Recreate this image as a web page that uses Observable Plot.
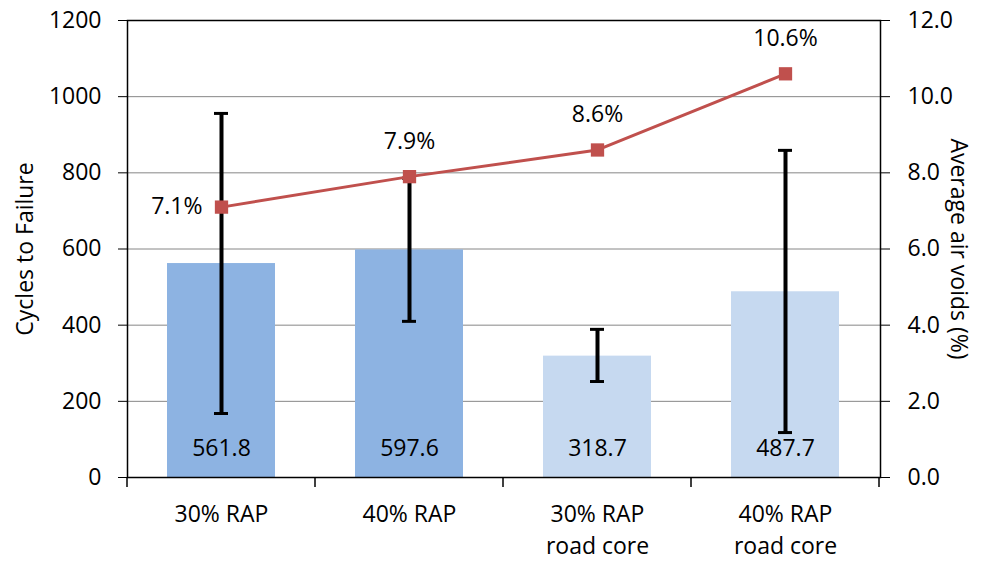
<!DOCTYPE html>
<html>
<head>
<meta charset="utf-8">
<script src="https://cdn.jsdelivr.net/npm/d3@7"></script>
<script src="https://cdn.jsdelivr.net/npm/@observablehq/plot@0.6"></script>
<style>
  body { margin: 0; background: #fff; }
</style>
</head>
<body>
<div id="chart"></div>
<script>
const mixes = ["30% RAP", "40% RAP", "30% RAP\nroad core", "40% RAP\nroad core"];
const cycles = [561.8, 597.6, 318.7, 487.7];
const cyclesLow = [168, 410, 252, 118];
const cyclesHigh = [956, 786, 389, 859];
const airVoids = [7.1, 7.9, 8.6, 10.6];
const barColors = ["#8DB3E2", "#8DB3E2", "#C6D9F0", "#C6D9F0"];
const leftTicks = [0, 200, 400, 600, 800, 1000, 1200];
const rightTicks = [0, 2, 4, 6, 8, 10, 12];

// right axis (air voids, 0-12) shares the left axis (0-1200)
const voidsToY = v => v * 100;

const rows = mixes.map((mix, i) => ({
  mix,
  cycles: cycles[i],
  low: cyclesLow[i],
  high: cyclesHigh[i],
  voids: airVoids[i],
  color: barColors[i]
}));

const chart = Plot.plot({
  width: 994,
  height: 561,
  marginLeft: 127,
  marginRight: 114,
  marginTop: 20,
  marginBottom: 84,
  style: {
    fontFamily: "'Open Sans', Lato, sans-serif",
    fontSize: "23px",
    color: "#000",
    background: "#fff",
    overflow: "visible"
  },
  x: { domain: mixes, paddingInner: 0.425, paddingOuter: 0.2125, label: null },
  y: { domain: [0, 1200], label: null },
  marks: [
    Plot.gridY(leftTicks, { stroke: "#868686", strokeOpacity: 1 }),
    Plot.barY(rows, { x: "mix", y: "cycles", fill: "color" }),
    Plot.ruleX(rows, { x: "mix", y1: "low", y2: "high", stroke: "#000", strokeWidth: 4 }),
    Plot.tickY(rows, { x: "mix", y: "low", stroke: "#000", strokeWidth: 3, insetLeft: 47, insetRight: 47 }),
    Plot.tickY(rows, { x: "mix", y: "high", stroke: "#000", strokeWidth: 3, insetLeft: 47, insetRight: 47 }),
    Plot.line(rows, { x: "mix", y: d => voidsToY(d.voids), stroke: "#C0504D", strokeWidth: 3 }),
    Plot.dot(rows, { x: "mix", y: d => voidsToY(d.voids), symbol: "square", fill: "#C0504D", r: 7.5 }),
    Plot.text(rows, { x: "mix", y: 0, text: d => d.cycles.toFixed(1), dy: -29 }),
    Plot.text(rows.slice(0, 1), {
      x: "mix", y: d => voidsToY(d.voids), text: d => d.voids.toFixed(1) + "%",
      textAnchor: "end", dx: -19
    }),
    Plot.text(rows.slice(1), {
      x: "mix", y: d => voidsToY(d.voids), text: d => d.voids.toFixed(1) + "%", dy: -35
    }),
    Plot.frame({ stroke: "#000", strokeWidth: 1.5 }),
    Plot.axisY(leftTicks, { anchor: "left", tickSize: 9, tickPadding: 17, label: null, tickFormat: d => String(d) }),
    Plot.axisY(rightTicks.map(voidsToY), {
      anchor: "right", tickSize: 9, tickPadding: 18, label: null,
      tickFormat: d => (d / 100).toFixed(1)
    }),
    Plot.axisX({ tickSize: 0, tickPadding: 22, lineHeight: 1.38, label: null }),
    Plot.text(["Cycles to Failure"], { frameAnchor: "left", textAnchor: "middle", rotate: -90, dx: -102 }),
    Plot.text(["Average air voids (%)"], { frameAnchor: "right", textAnchor: "middle", rotate: 90, dx: 78 })
  ]
});

// x-axis tick marks sit between the categories, as in the original
const xs = chart.scale("x");
const step = xs.apply(mixes[1]) - xs.apply(mixes[0]);
const bw = xs.bandwidth;
const edges = mixes.map(m => xs.apply(m) + bw / 2 - step / 2);
edges.push(xs.apply(mixes[mixes.length - 1]) + bw / 2 + step / 2);
const y0 = chart.scale("y").apply(0);
d3.select(chart).append("g")
  .attr("stroke", "#000")
  .attr("stroke-width", 1.5)
  .selectAll("line")
  .data(edges)
  .join("line")
  .attr("x1", d => d).attr("x2", d => d)
  .attr("y1", y0).attr("y2", y0 + 10);

d3.select("#chart").append(() => chart);
</script>
</body>
</html>
